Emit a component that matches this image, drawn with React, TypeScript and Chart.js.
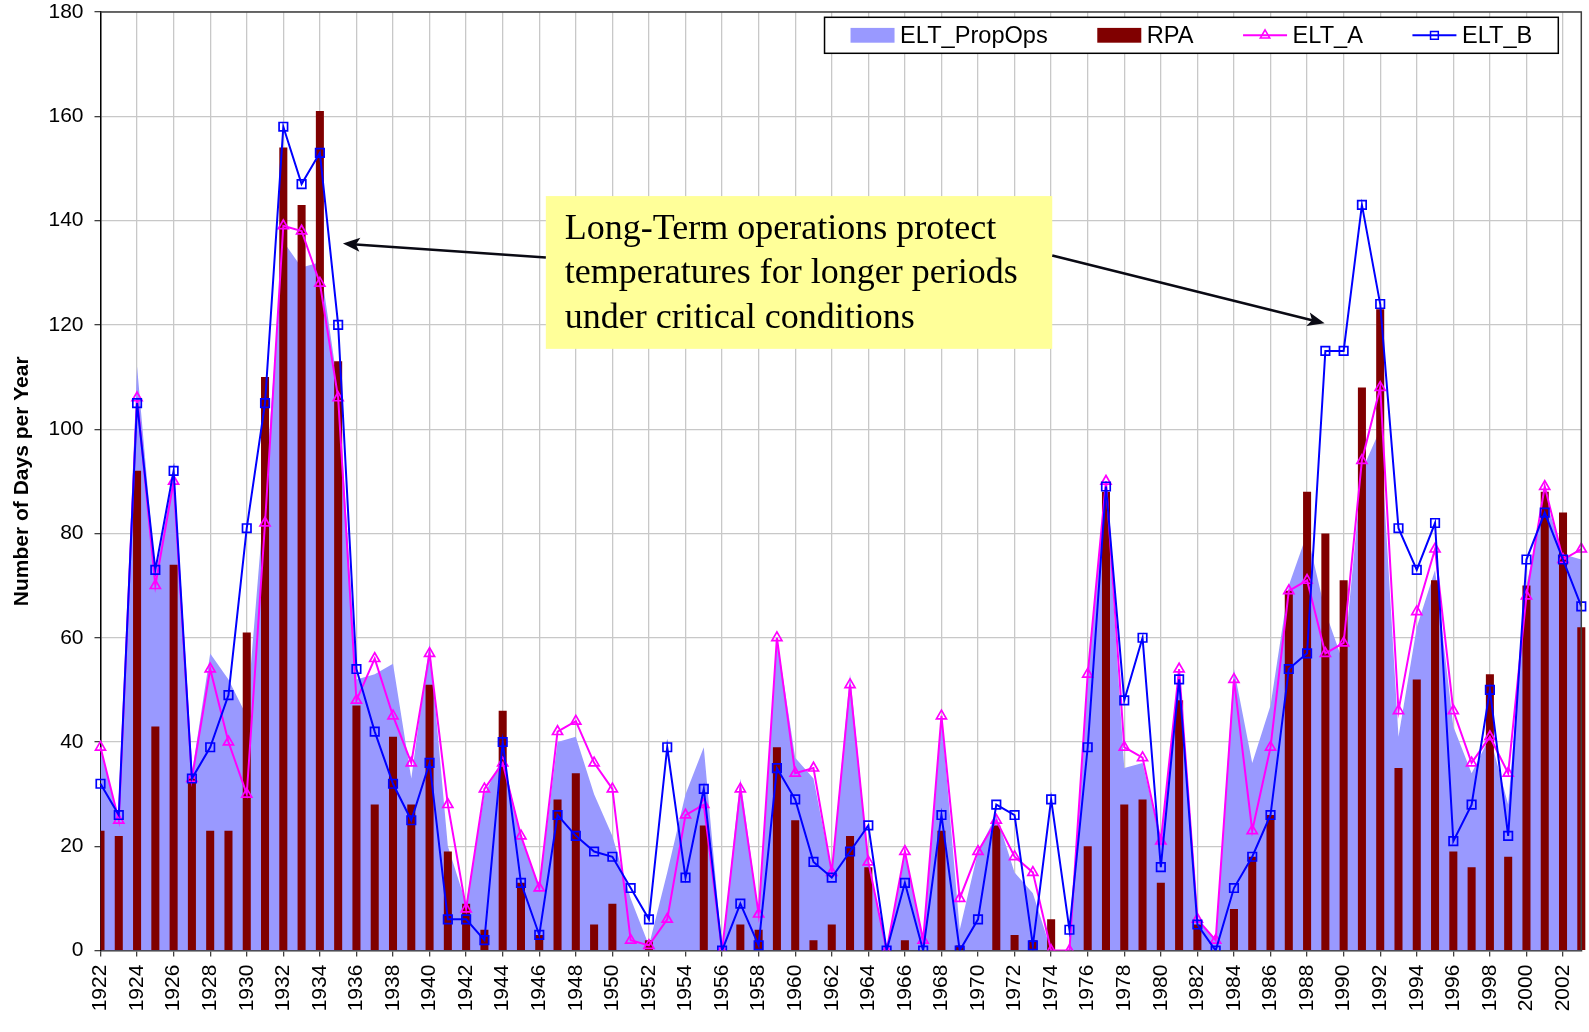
import React, { useEffect, useRef } from 'react';
import { Chart, registerables } from 'chart.js';

Chart.register(...registerables);

// ---------- data ----------
const years = [
  '1922', '1923', '1924', '1925', '1926', '1927', '1928', '1929', '1930', '1931',
  '1932', '1933', '1934', '1935', '1936', '1937', '1938', '1939', '1940', '1941',
  '1942', '1943', '1944', '1945', '1946', '1947', '1948', '1949', '1950', '1951',
  '1952', '1953', '1954', '1955', '1956', '1957', '1958', '1959', '1960', '1961',
  '1962', '1963', '1964', '1965', '1966', '1967', '1968', '1969', '1970', '1971',
  '1972', '1973', '1974', '1975', '1976', '1977', '1978', '1979', '1980', '1981',
  '1982', '1983', '1984', '1985', '1986', '1987', '1988', '1989', '1990', '1991',
  '1992', '1993', '1994', '1995', '1996', '1997', '1998', '1999', '2000', '2001',
  '2002', '2003',
];

const eltPropOps = [
  39, 25, 112, 72, 91, 34, 57, 52, 45, 88,
  136, 131, 132, 108, 52, 53, 55, 33, 59, 20,
  9, 30, 37, 22, 12, 40, 41, 30, 22, 10,
  1, 15, 30, 39, 0, 33, 7, 60, 37, 33,
  15, 53, 17, 0, 19, 2, 45, 4, 19, 26,
  15, 11, 0, 0, 53, 89, 35, 36, 21, 54,
  6, 2, 54, 36, 47, 70, 80, 65, 55, 92,
  100, 41, 62, 73, 43, 34, 41, 28, 70, 87,
  76, 75,
];

const rpa = [
  23, 22, 92, 43, 74, 33, 23, 23, 61, 110,
  154, 143, 161, 113, 47, 28, 41, 28, 51, 19,
  9, 4, 46, 13, 3, 29, 34, 5, 9, 0,
  2, 0, 0, 24, 0, 5, 4, 39, 25, 2,
  5, 22, 16, 0, 2, 0, 23, 1, 0, 24,
  3, 2, 6, 0, 20, 88, 28, 29, 13, 48,
  5, 0, 8, 18, 26, 69, 88, 80, 71, 108,
  123, 35, 52, 71, 19, 16, 53, 18, 70, 88,
  84, 62,
];

const eltA = [
  39, 25, 106, 70, 90, 33, 54, 40, 30, 82,
  139, 138, 128, 106, 48, 56, 45, 36, 57, 28,
  8, 31, 36, 22, 12, 42, 44, 36, 31, 2,
  1, 6, 26, 28, 0, 31, 7, 60, 34, 35,
  15, 51, 17, 0, 19, 2, 45, 10, 19, 25,
  18, 15, 0, 0, 53, 90, 39, 37, 21, 54,
  6, 2, 52, 23, 39, 69, 71, 57, 59, 94,
  108, 46, 65, 77, 46, 36, 41, 34, 68, 89,
  75, 77,
];

const eltB = [
  32, 26, 105, 73, 92, 33, 39, 49, 81, 105,
  158, 147, 153, 120, 54, 42, 32, 25, 36, 6,
  6, 2, 40, 13, 3, 26, 22, 19, 18, 12,
  6, 39, 14, 31, 0, 9, 1, 35, 29, 17,
  14, 19, 24, 0, 13, 0, 26, 0, 6, 28,
  26, 1, 29, 4, 39, 89, 48, 60, 16, 52,
  5, 0, 12, 18, 26, 54, 57, 115, 115, 143,
  124, 81, 73, 82, 21, 28, 50, 22, 75, 84,
  75, 66,
];

const seriesNames = ['ELT_PropOps', 'RPA', 'ELT_A', 'ELT_B'];
const yAxisTitle = 'Number of Days per Year';
const yMin = 0;
const yMax = 180;
const yStep = 20;

const noteLines = [
  'Long-Term operations protect',
  'temperatures for longer periods',
  'under critical conditions',
];
// annotation geometry in data coordinates (category index, value)
const noteBox = { x0: 24.36, x1: 52.06, yTop: 144.7, yBottom: 115.4 };
const noteArrows = [
  { from: [24.36, 132.9], to: [13.26, 135.6] },
  { from: [52.06, 133.3], to: [66.96, 120.3] },
];

// ---------- styles ----------
const COLORS = {
  area: '#9999ff',
  bar: '#800000',
  lineA: '#ff00ff',
  lineB: '#0000ff',
  grid: '#c8c8c8',
  axis: '#404040',
  note: '#ffff99',
};
const SANS = '"Liberation Sans", Arial, sans-serif';
const SERIF = '"Liberation Serif", "Times New Roman", serif';

function drawMarker(ctx: CanvasRenderingContext2D, kind: string, x: number, y: number, r: number) {
  ctx.beginPath();
  if (kind === 'triangle') {
    ctx.moveTo(x, y - r);
    ctx.lineTo(x + r * 0.866, y + r * 0.5);
    ctx.lineTo(x - r * 0.866, y + r * 0.5);
    ctx.closePath();
  } else {
    const h = r * Math.SQRT1_2;
    ctx.rect(x - h, y - h, 2 * h, 2 * h);
  }
  ctx.stroke();
}

function drawArrow(ctx: CanvasRenderingContext2D, x1: number, y1: number, x2: number, y2: number) {
  const ang = Math.atan2(y2 - y1, x2 - x1);
  const headLen = 17;
  const headW = 7;
  const bx = x2 - Math.cos(ang) * headLen;
  const by = y2 - Math.sin(ang) * headLen;
  ctx.strokeStyle = '#0a0a14';
  ctx.fillStyle = '#0a0a14';
  ctx.lineWidth = 2.5;
  ctx.beginPath();
  ctx.moveTo(x1, y1);
  ctx.lineTo(bx + Math.cos(ang) * 4, by + Math.sin(ang) * 4);
  ctx.stroke();
  ctx.beginPath();
  ctx.moveTo(x2, y2);
  ctx.lineTo(bx - Math.sin(ang) * headW, by + Math.cos(ang) * headW);
  ctx.lineTo(bx + Math.cos(ang) * 4, by + Math.sin(ang) * 4);
  ctx.lineTo(bx + Math.sin(ang) * headW, by - Math.cos(ang) * headW);
  ctx.closePath();
  ctx.fill();
}

const overlayPlugin = {
  id: 'overlay',
  afterDraw(chart: any) {
    const { ctx, chartArea: ca } = chart;
    const xs = chart.scales.x;
    const ys = chart.scales.y;
    ctx.save();

    // plot frame (top & right)
    ctx.strokeStyle = COLORS.axis;
    ctx.lineWidth = 1.5;
    ctx.beginPath();
    ctx.moveTo(ca.left, ca.top);
    ctx.lineTo(ca.right, ca.top);
    ctx.lineTo(ca.right, ca.bottom);
    ctx.stroke();

    // annotation box
    const bx0 = xs.getPixelForValue(noteBox.x0);
    const bx1 = xs.getPixelForValue(noteBox.x1);
    const by0 = ys.getPixelForValue(noteBox.yTop);
    const by1 = ys.getPixelForValue(noteBox.yBottom);
    ctx.fillStyle = COLORS.note;
    ctx.fillRect(bx0, by0, bx1 - bx0, by1 - by0);
    ctx.fillStyle = '#000';
    ctx.font = `36px ${SERIF}`;
    ctx.textAlign = 'left';
    ctx.textBaseline = 'alphabetic';
    noteLines.forEach((line, i) => {
      ctx.fillText(line, bx0 + 19, by0 + 43 + i * 44.3);
    });

    // arrows
    noteArrows.forEach((a) => {
      drawArrow(
        ctx,
        xs.getPixelForValue(a.from[0]),
        ys.getPixelForValue(a.from[1]),
        xs.getPixelForValue(a.to[0]),
        ys.getPixelForValue(a.to[1])
      );
    });

    // legend
    ctx.font = `23.6px ${SANS}`;
    const pad = 26;
    const sym = 44;
    const gapSym = 5.5;
    const gapItem = 49.5;
    const widths = seriesNames.map((n) => ctx.measureText(n).width);
    const totalW = pad * 2 + widths.reduce((s, w) => s + sym + gapSym + w, 0) + gapItem * (seriesNames.length - 1);
    const lh = 36;
    const lx = ca.right - 23 - totalW;
    const ly = ca.top + 5.3;
    ctx.fillStyle = '#fff';
    ctx.fillRect(lx, ly, totalW, lh);
    ctx.strokeStyle = '#000';
    ctx.lineWidth = 1.5;
    ctx.strokeRect(lx, ly, totalW, lh);
    let cx = lx + pad;
    const cy = ly + lh / 2;
    const dsets = chart.data.datasets;
    seriesNames.forEach((name, i) => {
      const ds = dsets[i];
      if (i < 2) {
        ctx.fillStyle = ds.backgroundColor;
        ctx.fillRect(cx, cy - 7.4, sym, 14.8);
      } else {
        ctx.strokeStyle = ds.borderColor;
        ctx.lineWidth = 2;
        ctx.beginPath();
        ctx.moveTo(cx, cy);
        ctx.lineTo(cx + sym, cy);
        ctx.stroke();
        ctx.lineWidth = 1.5;
        drawMarker(ctx, ds.pointStyle, cx + sym / 2, cy, 5.5);
      }
      ctx.fillStyle = '#000';
      ctx.textBaseline = 'middle';
      ctx.textAlign = 'left';
      ctx.fillText(name, cx + sym + gapSym, cy + 1);
      cx += sym + gapSym + widths[i] + gapItem;
    });

    ctx.restore();
  },
};

const isMajor = (c: any) => c.index % 2 === 0;

export default function App() {
  const ref = useRef<HTMLCanvasElement | null>(null);

  useEffect(() => {
    if (!ref.current) return;
    const H = 1032;
    const plotLeft = 100.5;
    const plotBottom = 950.6;
    const chart = new Chart(ref.current, {
      type: 'bar',
      data: {
        labels: years,
        datasets: [
          {
            type: 'line',
            label: seriesNames[0],
            data: eltPropOps,
            backgroundColor: COLORS.area,
            borderColor: 'rgba(0,0,0,0)',
            borderWidth: 0,
            pointRadius: 0,
            fill: 'origin',
            tension: 0,
            order: 3,
          } as any,
          {
            type: 'bar',
            label: seriesNames[1],
            data: rpa,
            backgroundColor: COLORS.bar,
            borderWidth: 0,
            barPercentage: 0.44,
            categoryPercentage: 1,
            order: 2,
            clip: { left: 0, top: 0, right: 8, bottom: 0 },
          } as any,
          {
            type: 'line',
            label: seriesNames[2],
            data: eltA,
            borderColor: COLORS.lineA,
            borderWidth: 2,
            pointStyle: 'triangle',
            pointRadius: 5.8,
            pointBorderWidth: 1.7,
            pointBorderColor: COLORS.lineA,
            pointBackgroundColor: 'rgba(0,0,0,0)',
            fill: false,
            tension: 0,
            order: 1,
          } as any,
          {
            type: 'line',
            label: seriesNames[3],
            data: eltB,
            borderColor: COLORS.lineB,
            borderWidth: 2,
            pointStyle: 'rect',
            pointRadius: 6,
            pointBorderWidth: 1.7,
            pointBorderColor: COLORS.lineB,
            pointBackgroundColor: 'rgba(0,0,0,0)',
            fill: false,
            tension: 0,
            order: 0,
          } as any,
        ],
      },
      options: {
        animation: false,
        responsive: false,
        maintainAspectRatio: false,
        layout: { padding: { left: 0, top: 12, right: 6, bottom: 0 } },
        plugins: {
          legend: { display: false },
          tooltip: { enabled: false },
          title: { display: false },
        },
        scales: {
          x: {
            type: 'category',
            offset: false,
            grid: {
              offset: false,
              drawOnChartArea: true,
              color: (c: any) => (isMajor(c) ? COLORS.grid : 'rgba(0,0,0,0)'),
              lineWidth: (c: any) => (isMajor(c) ? 1.3 : 0),
              tickColor: (c: any) => (isMajor(c) ? COLORS.axis : 'rgba(0,0,0,0)'),
              tickWidth: (c: any) => (isMajor(c) ? 1.3 : 0),
              tickLength: 6,
            },
            border: { color: COLORS.axis, width: 1.5 },
            ticks: {
              autoSkip: false,
              minRotation: 90,
              maxRotation: 90,
              padding: 8,
              color: '#000',
              font: { family: SANS, size: 21, lineHeight: 1 },
              callback: (_v: any, i: number) => (i % 2 === 0 ? years[i] : ''),
            },
            afterFit: (s: any) => {
              s.height = H - plotBottom;
              s.paddingLeft = 0;
              s.paddingRight = 0;
              s.paddingTop = 0;
              s.paddingBottom = 0;
            },
          } as any,
          y: {
            min: yMin,
            max: yMax,
            grid: {
              color: COLORS.grid,
              lineWidth: 1.3,
              tickColor: COLORS.axis,
              tickLength: 6,
              tickWidth: 1.3,
            },
            border: { color: '#000', width: 1.5 },
            ticks: {
              stepSize: yStep,
              padding: 11,
              color: '#000',
              font: { family: SANS, size: 21, lineHeight: 1 },
            },
            title: {
              display: true,
              text: yAxisTitle,
              color: '#000',
              font: { family: SANS, size: 21, weight: 'bold' },
              padding: { top: 10, bottom: 4 },
            },
            afterFit: (s: any) => {
              s.width = plotLeft;
              s.paddingLeft = 0;
              s.paddingRight = 0;
              s.paddingTop = 0;
              s.paddingBottom = 0;
            },
          } as any,
        },
      },
      plugins: [overlayPlugin],
    });
    return () => chart.destroy();
  }, []);

  return (
    <div
      style={{
        position: 'absolute',
        left: 0,
        top: 0,
        width: 1589,
        height: 1032,
        overflow: 'hidden',
        background: '#fff',
      }}
    >
      <canvas ref={ref} width={1589} height={1032} style={{ display: 'block', width: 1589, height: 1032 }} />
    </div>
  );
}
